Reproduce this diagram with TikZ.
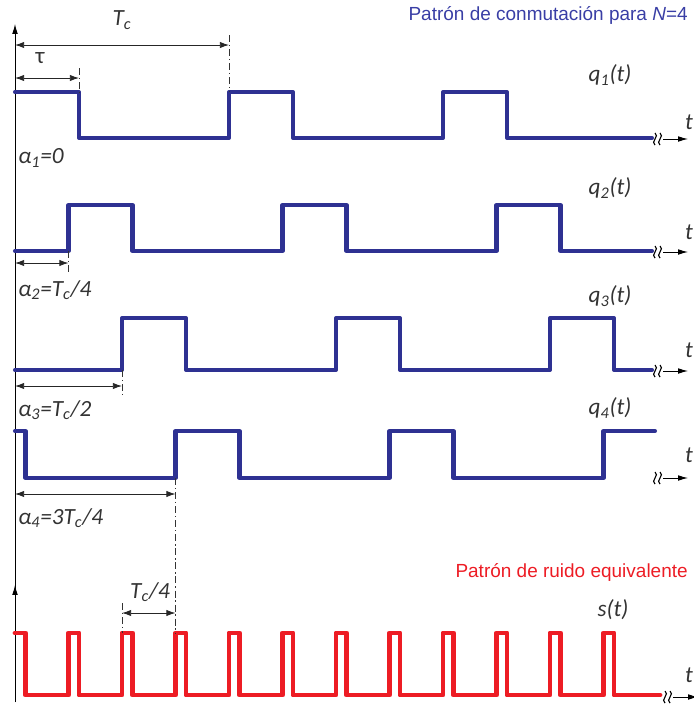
\documentclass[tikz,border=0pt]{standalone}
\usepackage{fontspec}
\setmainfont{Carlito}
\newfontfamily\arialfont{Liberation Sans}
\usetikzlibrary{arrows.meta, positioning, calc}
\definecolor{sigblue}{RGB}{46,49,146}
\definecolor{titleblue}{RGB}{57,62,165}
\definecolor{noisered}{RGB}{237,28,36}

\begin{document}
\begin{tikzpicture}[
    x=0.025cm, y=-0.025cm,
    sig/.style={line width=2.9pt, sigblue, line join=round, line cap=round},
    noise/.style={line width=3.5pt, noisered, line join=round, line cap=round},
    dim/.style={{Latex[length=6.5pt,width=4.5pt]}-{Latex[length=6.5pt,width=4.5pt]},
                line width=0.6pt, black!85},
    guide/.style={dash pattern=on 5pt off 2pt on 1pt off 2pt, line width=0.5pt,
                  black!80},
    lbl/.style={font=\fontsize{16.5}{18}\selectfont\itshape, inner sep=0pt,
                text=black!80},
    ttl/.style={font=\arialfont\fontsize{13.5}{15}\selectfont, inner sep=0pt,
                anchor=east},
    >={Latex[length=7pt,width=4pt]}
  ]
  \useasboundingbox (0,0) rectangle (694,706);

  % vertical axes
  \coordinate (o) at (15,702);
  \coordinate (top) at (15,24);
  \coordinate (stop) at (15,585);
  \draw[->, line width=0.6pt] (o) -- (top);
  \draw[->, line width=0.6pt] (o) -- (stop);

  % time axes with break marks
  \foreach \y/\xw [count=\i] in {139/657, 252/657, 371/657, 478/657, 697/667} {
    \coordinate (w\i) at (\xw,\y);
    \foreach \dx in {-2,3} {
      \draw[line width=0.8pt] ($(w\i)+(\dx,-6)$)
        .. controls +(5,3) and +(-5,-3) .. ($(w\i)+(\dx,6)$);
    }
    \draw[->, line width=0.6pt] ($(w\i)+(6,0)$) -- ++(25,0);
  }

  % switching signals
  \draw[sig] (15,92) -- (79,92) -- (79,138)
    foreach \n in {1,2} { -- ({15+214*\n},138) -- ++(0,-46) -- ++(64,0) -- ++(0,46) }
    -- (652,138);
  \draw[sig] (15,251)
    foreach \n in {0,1,2} { -- ({68.5+214*\n},251) -- ++(0,-46) -- ++(64,0) -- ++(0,46) }
    -- (652,251);
  \draw[sig] (15,370)
    foreach \n in {0,1,2} { -- ({122+214*\n},370) -- ++(0,-52) -- ++(64,0) -- ++(0,52) }
    -- (652,370);
  \draw[sig] (15,431) -- (25.5,431) -- (25.5,478)
    foreach \n in {0,1} { -- ({175.5+214*\n},478) -- ++(0,-47) -- ++(64,0) -- ++(0,47) }
    -- (603.5,478) -- (603.5,431) -- (655,431);

  % equivalent noise
  \draw[noise] (15,633) -- (25.5,633) -- (25.5,695)
    foreach \n in {1,...,11} { -- ({15+53.5*\n},695) -- ++(0,-62) -- ++(10.5,0) -- ++(0,62) }
    -- (660,695);

  % dimensions
  \coordinate (tcA) at (15,45);   \coordinate (tcB) at (229,45);
  \coordinate (tauA) at (15,78);  \coordinate (tauB) at (79,78);
  \coordinate (a2A) at (15,263);  \coordinate (a2B) at (68.5,263);
  \coordinate (a3A) at (15,386);  \coordinate (a3B) at (122,386);
  \coordinate (a4A) at (15,494);  \coordinate (a4B) at (175.5,494);
  \coordinate (qA) at (122,613);  \coordinate (qB) at (175.5,613);
  \draw[dim] (tcA) -- (tcB);
  \draw[dim] (tauA) -- (tauB);
  \draw[dim] (a2A) -- (a2B);
  \draw[dim] (a3A) -- (a3B);
  \draw[dim] (a4A) -- (a4B);
  \draw[dim] (qA) -- (qB);
  \draw[guide] (229,35) -- (229,92);
  \draw[guide] (79,68) -- (79,92);
  \draw[guide] (68.5,251) -- (68.5,272);
  \draw[guide] (122,370) -- (122,396);
  \draw[guide] (175.5,478) -- (175.5,633);
  \draw[guide] (122,603) -- (122,633);

  % labels
  \node[lbl] (tc) at (122,20) {T\textsubscript{c}};
  \node[lbl, font=\fontsize{16.5}{18}\selectfont] (tau) at (40,58) {τ};
  \node[lbl, anchor=west] (al1) at (18,158) {α\textsubscript{1}=0};
  \node[lbl, anchor=west] (al2) at (18,290) {α\textsubscript{2}=T\textsubscript{c}/4};
  \node[lbl, anchor=west] (al3) at (18,410) {α\textsubscript{3}=T\textsubscript{c}/2};
  \node[lbl, anchor=west] (al4) at (18,518) {α\textsubscript{4}=3T\textsubscript{c}/4};
  \node[lbl] (tq) at (150,592) {T\textsubscript{c}/4};
  \foreach \k/\y in {1/75, 2/188, 3/296, 4/408} {
    \node[lbl] (q\k) at (610,\y) {q\textsubscript{\k}(t)};
  }
  \node[lbl] (s) at (613,610) {s(t)};
  \foreach \y [count=\i] in {122, 232, 350, 455, 675} {
    \node[lbl] (t\i) at (689,\y) {t};
  }
  \node[ttl, text=titleblue] (ttlq) at (688,15)
    {Patrón de conmutación para \textit{N}=4};
  \node[ttl, text=noisered] (ttls) at (688,572)
    {Patrón de ruido equivalente};
\end{tikzpicture}
\end{document}
